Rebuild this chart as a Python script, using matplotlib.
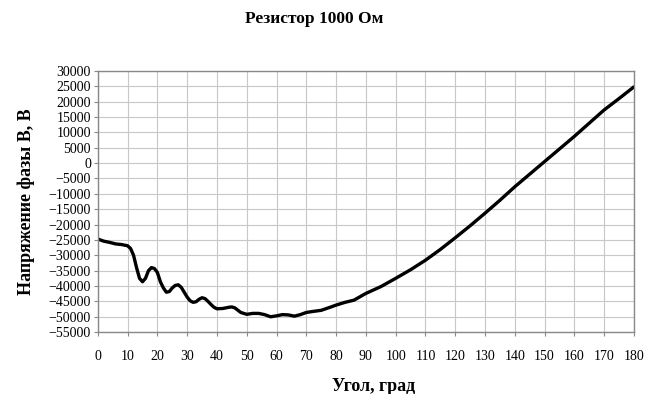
import numpy as np
import matplotlib.pyplot as plt

plt.rcParams['font.family'] = ['Liberation Serif', 'DejaVu Serif']

# angle, degrees
angle = [0, 2, 4, 6, 8, 10, 11, 12, 13, 14, 15, 16, 17, 18, 19, 20, 21, 22, 23,
         24, 25, 26, 27, 28, 29, 30, 31, 32, 33, 34, 35, 36, 37, 38, 39, 40, 42,
         44, 45, 46, 48, 50, 52, 54, 56, 58, 60, 62, 64, 66, 68, 70, 72, 75, 78,
         80, 83, 86, 90, 95, 100, 105, 110, 115, 120, 125, 130, 135, 140, 145,
         150, 155, 160, 165, 170, 175, 180]
# phase B voltage, V
voltage = [-24700, -25400, -25800, -26300, -26500, -26900, -27800, -30000, -34000,
           -37500, -38600, -37500, -35000, -34000, -34300, -35600, -38600, -40600,
           -42000, -41800, -40600, -39800, -39600, -40400, -42000, -43600, -44800,
           -45300, -45100, -44300, -43800, -44100, -45000, -46000, -46900, -47400,
           -47300, -46900, -46800, -47100, -48600, -49200, -48900, -48900, -49300,
           -50000, -49700, -49300, -49400, -49800, -49300, -48600, -48300, -47900,
           -46900, -46200, -45300, -44600, -42400, -40200, -37500, -34700, -31600,
           -28100, -24300, -20400, -16300, -12100, -7700, -3600, 500, 4600, 8700,
           13000, 17300, 21000, 24800]

fig = plt.figure(figsize=(6.61, 3.94), dpi=100)
ax = fig.add_axes([0.148, 0.157, 0.811, 0.663])

ax.plot(angle, voltage, color='black', linewidth=2.4, solid_capstyle='round')

ax.set_xlim(0, 180)
ax.set_ylim(-55000, 30000)
ax.set_xticks(np.arange(0, 181, 10))
ax.set_yticks(np.arange(-55000, 30001, 5000))
ax.grid(True, color='#c8c8c8', linewidth=0.8)
ax.set_axisbelow(True)
for s in ax.spines.values():
    s.set_color('#888888')
    s.set_linewidth(1.0)
ax.tick_params(axis='both', labelsize=10, length=3, color='#888888', pad=2)
ax.tick_params(axis='x', pad=10)

ax.set_xlabel('Угол, град', fontsize=13, fontweight='bold')
ax.xaxis.set_label_coords(0.514, -0.175)
ax.set_ylabel('Напряжение фазы В, В', fontsize=13, fontweight='bold')
ax.yaxis.set_label_coords(-0.117, 0.5)
fig.text(0.475, 0.953, 'Резистор 1000 Ом', ha='center', va='center',
         fontsize=12.5, fontweight='bold')

fig.savefig('out.png', dpi=100)
